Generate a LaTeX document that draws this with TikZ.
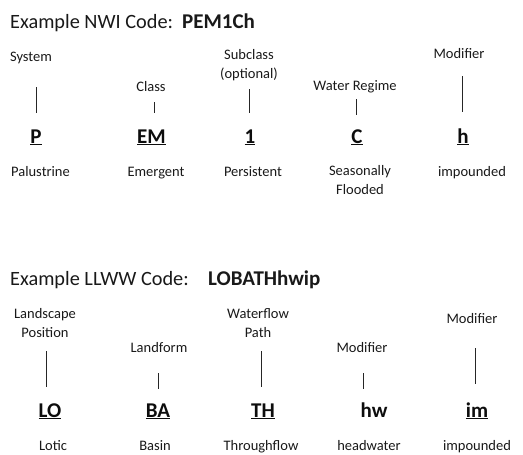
\documentclass[tikz,border=0pt]{standalone}
\usepackage{fontspec}
\setmainfont{Carlito}
\usepackage{tikz}

\begin{document}
\begin{tikzpicture}[x=1pt,y=-1pt,
    lbl/.style={anchor=base,inner sep=0pt,align=center,text=black!90,
      font=\fontsize{14.5}{19}\selectfont},
    code/.style={anchor=base,inner sep=0pt,text=black!95,
      font=\fontsize{21}{25}\selectfont\bfseries},
    ttl/.style={anchor=base west,inner sep=0pt,text=black!90,
      font=\fontsize{20.3}{24}\selectfont},
    tick/.style={line width=0.8pt,black!85}]
  \useasboundingbox (0,0) rectangle (523,455);

  % NWI code
  \node[ttl] (nwi) at (10,28) {Example NWI Code:};
  \node[ttl,font=\fontsize{21}{24}\selectfont\bfseries] (nwicode) at (182,28) {PEM1Ch};

  \node[lbl] (sys) at (31,61) {System};
  \node[lbl] (cls) at (151,91) {Class};
  \node[lbl] (sub) at (249,78) {Subclass\\(optional)};
  \node[lbl] (reg) at (355,90) {Water Regime};
  \node[lbl] (mod) at (459,59) {Modifier};

  \node[code] (P) at (36,143) {\underline{P}};
  \node[code] (EM) at (151.5,143) {\underline{EM}};
  \node[code] (one) at (250,143) {\underline{1}};
  \node[code] (C) at (357,143) {\underline{C}};
  \node[code] (h) at (463,143) {\underline{h}};

  \node[lbl] (pal) at (40.5,176) {Palustrine};
  \node[lbl] (emg) at (156,176) {Emergent};
  \node[lbl] (per) at (253,176) {Persistent};
  \node[lbl] (sea) at (360,194) {Seasonally\\Flooded};
  \node[lbl] (imp) at (472,176) {impounded};

  \coordinate (sysT) at (36,87);  \coordinate (sysB) at (36,113);
  \coordinate (clsT) at (154,102); \coordinate (clsB) at (154,113);
  \coordinate (subT) at (249,89); \coordinate (subB) at (249,113);
  \coordinate (regT) at (356,99); \coordinate (regB) at (356,115);
  \coordinate (modT) at (462,76); \coordinate (modB) at (462,112);
  \foreach \t in {sys,cls,sub,reg,mod}
    \draw[tick] (\t T) -- (\t B);

  % LLWW code
  \node[ttl] (llww) at (10,285) {Example LLWW Code:};
  \node[ttl,font=\fontsize{21}{24}\selectfont\bfseries] (llwwcode) at (208,285) {LOBATHhwip};

  \node[lbl] (lnd) at (45,337) {Landscape\\Position};
  \node[lbl] (frm) at (159,352) {Landform};
  \node[lbl] (wfp) at (258,337) {Waterflow\\Path};
  \node[lbl] (hmod) at (362,352) {Modifier};
  \node[lbl] (imod) at (472,323) {Modifier};

  \node[code] (LO) at (50,417) {\underline{LO}};
  \node[code] (BA) at (158,417) {\underline{BA}};
  \node[code] (TH) at (263,417) {\underline{TH}};
  \node[code] (hw) at (374,417) {hw};
  \node[code] (im) at (477,417) {\underline{im}};

  \node[lbl] (lot) at (53,450) {Lotic};
  \node[lbl] (bas) at (155,450) {Basin};
  \node[lbl] (thr) at (261,450) {Throughflow};
  \node[lbl] (hdw) at (369,450) {headwater};
  \node[lbl] (imp2) at (477,450) {impounded};

  \coordinate (lndT) at (46,351);  \coordinate (lndB) at (46,387);
  \coordinate (frmT) at (158,373); \coordinate (frmB) at (158,389);
  \coordinate (wfpT) at (261,351); \coordinate (wfpB) at (261,387);
  \coordinate (hmodT) at (363,373); \coordinate (hmodB) at (363,389);
  \coordinate (imodT) at (475,348); \coordinate (imodB) at (475,384);
  \foreach \t in {lnd,frm,wfp,hmod,imod}
    \draw[tick] (\t T) -- (\t B);
\end{tikzpicture}
\end{document}
